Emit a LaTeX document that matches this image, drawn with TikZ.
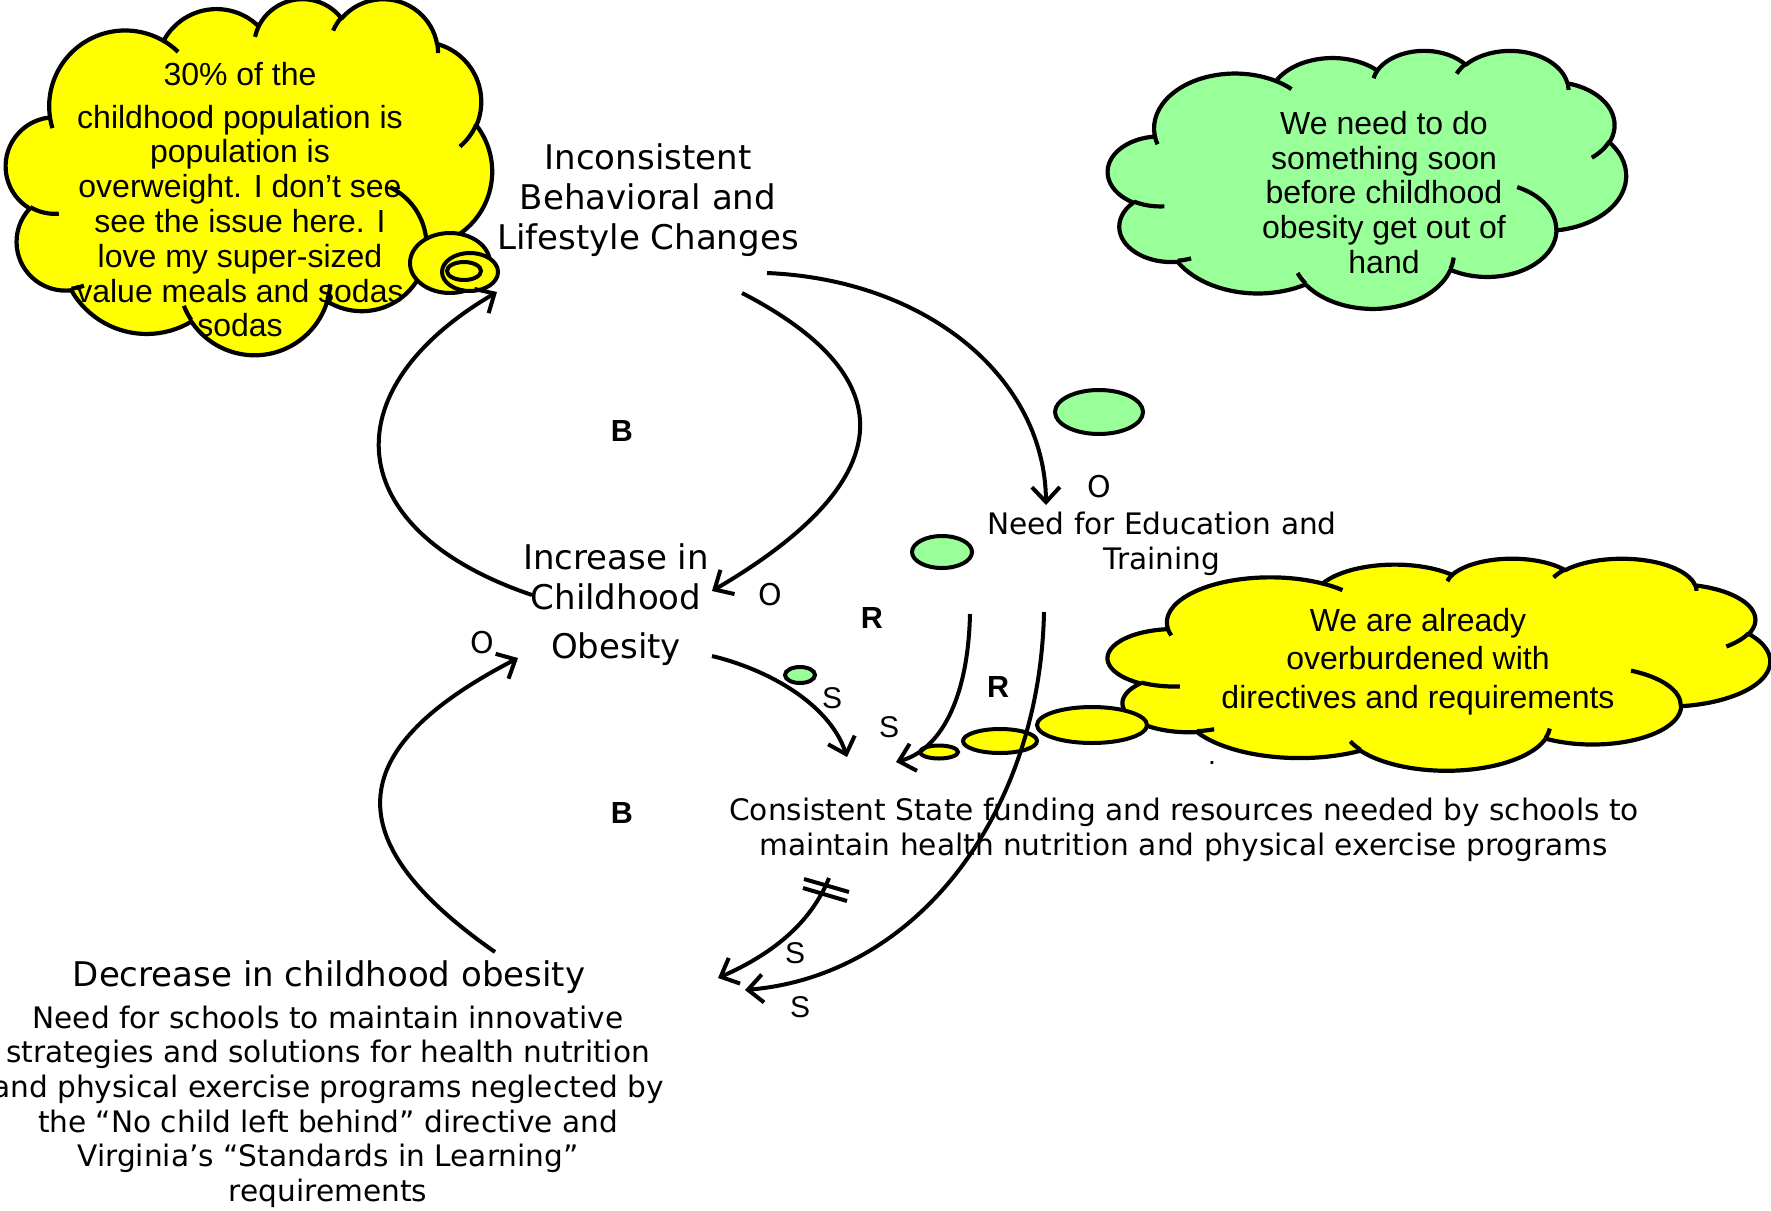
\documentclass[tikz,border=0pt]{standalone}
\usepackage{fontspec}
\usetikzlibrary{arrows.meta}
\newfontfamily\comic{DejaVu Sans}
\newfontfamily\arial{Liberation Sans}
\definecolor{cloudyellow}{RGB}{255,255,0}
\definecolor{cloudgreen}{RGB}{153,255,153}
\makeatletter
\newcommand\ooarc[4]{%
  \pgfmathsetmacro\oo@a{atan2((#1)*sin(#3),(#2)*cos(#3))}%
  \pgfmathsetmacro\oo@b{atan2((#1)*sin((#3)+(#4)),(#2)*cos((#3)+(#4)))}%
  \pgfmathsetmacro\oo@d{(\oo@b)-(\oo@a)}%
  \pgfmathsetmacro\oo@d{((#4)>0) ? (((\oo@d)<0) ? ((\oo@d)+360) : (\oo@d)) : (((\oo@d)>0) ? ((\oo@d)-360) : (\oo@d))}%
  \global\let\ooA\oo@a
  \global\let\ooD\oo@d}
\makeatother
\newcommand\ooseg[4]{\pgfextra{\ooarc{#1}{#2}{#3}{#4}} arc[start angle=\ooA,delta angle=\ooD,x radius=#1,y radius=#2]}
\newcommand\pptcloud[5]{%
\begin{scope}[shift={(#1,#2)},xscale=#3/432,yscale=#4/432]
\path[cloudline,draw,fill=#5] (39.00,143.70)
 \ooseg{67.53}{91.90}{-190.4875}{123.7805}
 \ooseg{53.33}{72.67}{-144.1024}{89.9452}
 \ooseg{43.65}{59.45}{-145.8079}{99.7230}
 \ooseg{48.57}{65.95}{-130.9861}{117.2417}
 \ooseg{53.33}{72.73}{-78.7089}{109.0269}
 \ooseg{67.75}{92.20}{-46.2673}{130.2690}
 \ooseg{57.85}{78.67}{0.6250}{114.0333}
 \ooseg{67.52}{92.15}{22.4516}{115.1726}
 \ooseg{77.20}{105.43}{66.2426}{75.7110}
 \ooseg{43.60}{59.18}{-274.9421}{146.7356}
 \ooseg{43.45}{59.45}{-246.8285}{152.5189}
 -- cycle;
\draw[cloudline] (46.93,261.77) \ooseg{43.45}{59.45}{86.7420}{26.4295}
 (69.28,348.99) \ooseg{43.60}{59.18}{73.6105}{11.4475}
 (164.78,390.90) \ooseg{67.52}{92.15}{137.6242}{14.0811}
 (288.27,347.51) \ooseg{67.52}{92.15}{6.4533}{15.9984}
 (341.29,229.54) \ooseg{57.85}{78.67}{-70.2924}{70.9174}
 (417.98,153.54) \ooseg{53.33}{72.73}{30.3180}{27.7515}
 (383.24,54.26) \ooseg{48.57}{65.95}{-13.7443}{14.8589}
 (290.78,39.52) \ooseg{48.57}{65.95}{-149.1815}{18.1954}
 (221.41,47.20) \ooseg{43.65}{59.45}{-163.4943}{17.6864}
 (140.00,51.92) \ooseg{67.53}{91.90}{-66.7070}{12.3194}
 (41.27,157.89) \ooseg{67.53}{91.90}{157.6544}{11.8582};
\end{scope}}
\tikzset{
 cloudline/.style={line width=4.2pt,line join=round},
 bubble/.style={line width=4pt},
 conn/.style={line width=4pt,-{Straight Barb[length=15pt,width=28pt]}},
 plainline/.style={line width=4pt},
 comicbig/.style={font=\comic\fontsize{34}{40}\selectfont,align=center,inner sep=0pt,anchor=north},
 comicsmall/.style={font=\comic\fontsize{29.6}{35}\selectfont,align=center,inner sep=0pt,anchor=north},
 cloudtext/.style={font=\arial\fontsize{32}{34.8}\selectfont,align=center,inner sep=0pt,anchor=north},
 looplabel/.style={font=\arial\bfseries\fontsize{30.5}{32}\selectfont,inner sep=0pt},
 signlabel/.style={font=\arial\fontsize{30}{32}\selectfont,inner sep=0pt},
 olabel/.style={font=\comic\fontsize{30}{32}\selectfont,inner sep=0pt}
}
\begin{document}
\begin{tikzpicture}[x=1pt,y=-1pt]
\useasboundingbox (0,0) rectangle (1771,1210);
% clouds
\pptcloud{6}{-2}{486}{356}{cloudyellow}
\pptcloud{1108}{50}{518}{258}{cloudgreen}
\pptcloud{1108}{558}{662}{212}{cloudyellow}
% callout bubbles
\filldraw[bubble,fill=cloudyellow] (450,263) ellipse [x radius=40,y radius=30];
\filldraw[bubble,fill=cloudyellow] (470,272) ellipse [x radius=28,y radius=19];
\draw[bubble] (464,271) ellipse [x radius=17,y radius=9];
\filldraw[bubble,fill=cloudgreen] (1099,412) ellipse [x radius=44,y radius=22];
\filldraw[bubble,fill=cloudgreen] (942,552) ellipse [x radius=30,y radius=16];
\filldraw[bubble,fill=cloudgreen] (800,675) ellipse [x radius=15,y radius=8];
\filldraw[bubble,fill=cloudyellow] (1092,725) ellipse [x radius=55,y radius=18];
\filldraw[bubble,fill=cloudyellow] (1000,741) ellipse [x radius=37,y radius=12];
\filldraw[bubble,fill=cloudyellow] (939,752) ellipse [x radius=19,y radius=6.5];
% cloud texts
\node[cloudtext] (t1) at (240,55) {\rule{0pt}{30pt}30\% of the\\[8pt]childhood population is\\population is\\overweight. I don’t see\\see the issue here. I\\love my super-sized\\value meals and sodas\\sodas};
\node[cloudtext] (t2) at (1384,104) {\rule{0pt}{30pt}We need to do\\something soon\\before childhood\\obesity get out of\\hand};
\node[cloudtext,font=\arial\fontsize{32}{38.5}\selectfont] (t3) at (1418,601) {\rule{0pt}{30pt}We are already\\overburdened with\\directives and requirements};
% variables
\node[comicbig] (incons) at (648,139) {\rule{0pt}{30pt}Inconsistent\\Behavioral and\\Lifestyle Changes};
\node[comicbig] (increase) at (616,539) {\rule{0pt}{30pt}Increase in\\Childhood\\[9pt]Obesity};
\node[comicsmall] (needed) at (1162,504) {\rule{0pt}{30pt}Need for Education and\\Training};
\node[comicsmall] (consist) at (1184,790) {\rule{0pt}{30pt}Consistent State funding and resources needed by schools to\\maintain health nutrition and physical exercise programs};
\node[comicbig] (decrease) at (329,956) {\rule{0pt}{30pt}Decrease in childhood obesity};
\node[comicsmall,font=\comic\fontsize{29.6}{34.6}\selectfont] (schools) at (328,998) {\rule{0pt}{30pt}Need for schools to maintain innovative\\strategies and solutions for health nutrition\\and physical exercise programs neglected by\\the “No child left behind” directive and\\Virginia’s “Standards in Learning”\\requirements};
% loop labels
\node[looplabel] (b1) at (622,431) {B};
\node[looplabel] (b2) at (622,813) {B};
\node[looplabel] (r1) at (872,618) {R};
\node[looplabel] (r2) at (998,687) {R};
\node[olabel] (o1) at (770,595) {O};
\node[olabel] (o2) at (482,643) {O};
\node[olabel] (o3) at (1099,487) {O};
\node[signlabel] (s1) at (832,698) {S};
\node[signlabel] (s2) at (889,727) {S};
\node[signlabel] (s3) at (795,953) {S};
\node[signlabel] (s4) at (800,1007) {S};
\node[font=\arial\fontsize{28}{30}\selectfont,inner sep=0pt,anchor=base] (dot) at (1212,764) {.};
% connector ends
\coordinate (a1s) at (767,273); \coordinate (a1e) at (1046,505);
\coordinate (a2s) at (532,595); \coordinate (a2e) at (497,292);
\coordinate (a3s) at (742,293); \coordinate (a3e) at (712,591);
\coordinate (a4s) at (495,952); \coordinate (a4e) at (518,658);
\coordinate (a5s) at (712,656); \coordinate (a5e) at (847,757);
\coordinate (a6s) at (970,614); \coordinate (a6e) at (896,762);
\coordinate (a7s) at (1044,612); \coordinate (a7e) at (745,990);
\coordinate (a8s) at (829,878); \coordinate (a8e) at (718,978);
\coordinate (h1a) at (804,879); \coordinate (h1b) at (849,892);
\coordinate (h2a) at (803,888); \coordinate (h2b) at (847,901);
% connectors
\draw[conn] (a1s) .. controls (930,280) and (1045,380) .. (a1e);
\draw[conn] (a2s) .. controls (340,530) and (330,390) .. (a2e);
\draw[conn] (a3s) .. controls (920,385) and (885,490) .. (a3e);
\draw[conn] (a4s) .. controls (320,830) and (360,740) .. (a4e);
\draw[conn] (a5s) .. controls (770,670) and (830,705) .. (a5e);
\draw[conn] (a6s) .. controls (968,700) and (940,750) .. (a6e);
\draw[conn] (a7s) .. controls (1040,810) and (920,975) .. (a7e);
\draw[conn] (a8s) .. controls (810,925) and (770,955) .. (a8e);
\draw[plainline] (h1a) -- (h1b);
\draw[plainline] (h2a) -- (h2b);
\end{tikzpicture}
\end{document}
